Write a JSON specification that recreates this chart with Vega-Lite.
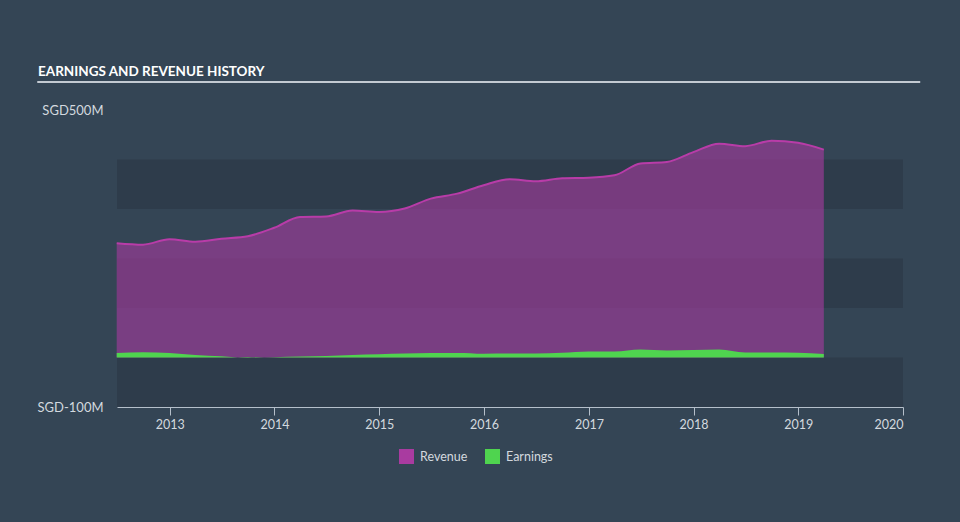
{
  "$schema": "https://vega.github.io/schema/vega-lite/v6.json",
  "autosize": {"type": "none"},
  "width": 786,
  "height": 297,
  "padding": {"left": 117, "top": 110, "right": 57, "bottom": 115},
  "background": "#344555",
  "title": {
    "text": "EARNINGS AND REVENUE HISTORY",
    "anchor": "start",
    "frame": "group",
    "dx": -79,
    "dy": 16,
    "offset": 7,
    "baseline": "alphabetic",
    "color": "#ffffff",
    "font": "Lato",
    "fontSize": 13.5,
    "fontWeight": "bold"
  },
  "config": {
    "view": {"stroke": null},
    "axis": {"labelFont": "Lato", "labelColor": "#d3d9df", "labelFontSize": 12.5}
  },
  "datasets": {
    "history": [
      {"date": "2012-06-30", "revenue": 231, "earnings": 9},
      {"date": "2012-09-30", "revenue": 228, "earnings": 10.5},
      {"date": "2012-12-31", "revenue": 239, "earnings": 9},
      {"date": "2013-03-31", "revenue": 234, "earnings": 5},
      {"date": "2013-06-30", "revenue": 240, "earnings": 2.5},
      {"date": "2013-09-30", "revenue": 245, "earnings": -1},
      {"date": "2013-12-31", "revenue": 262, "earnings": 0.5},
      {"date": "2014-03-31", "revenue": 284, "earnings": 2},
      {"date": "2014-06-30", "revenue": 285, "earnings": 3},
      {"date": "2014-09-30", "revenue": 297, "earnings": 5},
      {"date": "2014-12-31", "revenue": 294, "earnings": 6.5},
      {"date": "2015-03-31", "revenue": 301, "earnings": 8},
      {"date": "2015-06-30", "revenue": 321, "earnings": 9},
      {"date": "2015-09-30", "revenue": 331, "earnings": 9},
      {"date": "2015-12-31", "revenue": 348, "earnings": 7.5},
      {"date": "2016-03-31", "revenue": 360, "earnings": 8},
      {"date": "2016-06-30", "revenue": 356, "earnings": 8},
      {"date": "2016-09-30", "revenue": 362, "earnings": 9.5},
      {"date": "2016-12-31", "revenue": 363, "earnings": 12},
      {"date": "2017-03-31", "revenue": 368, "earnings": 12},
      {"date": "2017-06-30", "revenue": 392, "earnings": 16},
      {"date": "2017-09-30", "revenue": 395, "earnings": 14},
      {"date": "2017-12-31", "revenue": 415, "earnings": 15},
      {"date": "2018-03-31", "revenue": 432, "earnings": 16},
      {"date": "2018-06-30", "revenue": 427, "earnings": 10},
      {"date": "2018-09-30", "revenue": 438, "earnings": 10},
      {"date": "2018-12-31", "revenue": 434, "earnings": 9.5},
      {"date": "2019-03-31", "revenue": 420, "earnings": 7}
    ],
    "bands": [
      {"lo": 300, "hi": 400},
      {"lo": 100, "hi": 200},
      {"lo": -100, "hi": 0}
    ],
    "underline": [
      {"start": "2011-09-27", "end": "2020-03-01", "level": 556.6}
    ]
  },
  "layer": [
    {
      "data": {"name": "bands"},
      "mark": {"type": "rect", "color": "#2e3c4b"},
      "encoding": {
        "y": {"field": "lo", "type": "quantitative", "scale": {"domain": [-100, 500], "nice": false, "zero": false},
          "axis": {"values": [-100, 500], "labelExpr": "'SGD' + datum.value + 'M'", "domain": false, "ticks": false, "grid": false, "labelPadding": 14, "title": null, "labelFontSize": 13}},
        "y2": {"field": "hi"}
      }
    },
    {
      "data": {"name": "history"},
      "mark": {"type": "area", "interpolate": "monotone", "fillOpacity": 0.6},
      "encoding": {
        "x": {"field": "date", "type": "temporal",
          "scale": {"domain": [{"year": 2012, "month": 7, "date": 1}, {"year": 2020, "month": 1, "date": 1}]},
          "axis": {"format": "%Y", "tickCount": {"interval": "year", "step": 1}, "grid": false, "domainColor": "#b5bfca", "tickColor": "#b5bfca", "tickSize": 8, "labelPadding": 3, "title": null}},
        "y": {"field": "revenue", "type": "quantitative", "stack": null},
        "color": {"datum": "Revenue", "type": "nominal",
          "scale": {"domain": ["Revenue", "Earnings"], "range": ["#a93ba0", "#4fd44f"]},
          "legend": {"orient": "none", "legendX": 282, "legendY": 339, "direction": "horizontal", "title": null, "symbolType": "square", "symbolSize": 225, "symbolOpacity": 1, "symbolStrokeWidth": 0, "labelColor": "#d3d9df", "labelFont": "Lato", "labelFontSize": 12.5, "labelOffset": 6, "columnPadding": 17}}
      }
    },
    {
      "data": {"name": "history"},
      "mark": {"type": "line", "interpolate": "monotone", "color": "#b83ca8", "strokeWidth": 2},
      "encoding": {
        "x": {"field": "date", "type": "temporal"},
        "y": {"field": "revenue", "type": "quantitative"}
      }
    },
    {
      "data": {"name": "history"},
      "mark": {"type": "area", "interpolate": "monotone", "fillOpacity": 1},
      "encoding": {
        "x": {"field": "date", "type": "temporal"},
        "y": {"field": "earnings", "type": "quantitative", "stack": null},
        "y2": {"datum": 0},
        "color": {"datum": "Earnings", "type": "nominal"}
      }
    },
    {
      "mark": {"type": "rule", "color": "#ffffff", "strokeWidth": 1.5},
      "encoding": {"y": {"datum": 0}}
    },
    {
      "data": {"name": "underline"},
      "mark": {"type": "rule", "color": "#c3cad2", "strokeWidth": 2, "clip": false},
      "encoding": {
        "y": {"field": "level", "type": "quantitative"},
        "x": {"field": "start", "type": "temporal"},
        "x2": {"field": "end"}
      }
    }
  ]
}
